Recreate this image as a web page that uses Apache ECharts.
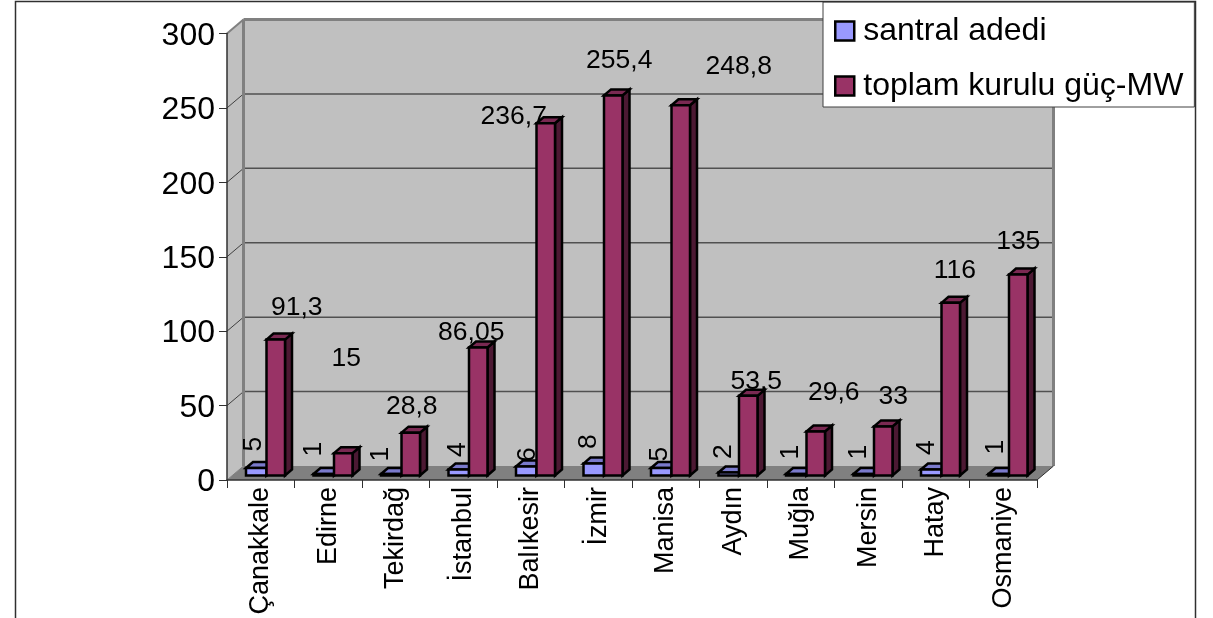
<!DOCTYPE html>
<html><head><meta charset="utf-8">
<style>html,body{margin:0;padding:0;background:#fff}#c{width:1213px;height:618px}</style>
<script src="https://cdn.jsdelivr.net/npm/echarts@6/dist/echarts.min.js"></script>
</head><body><div id="c"></div>
<script>
var categories = ['Çanakkale','Edirne','Tekirdağ','İstanbul','Balıkesir','İzmir','Manisa','Aydın','Muğla','Mersin','Hatay','Osmaniye'];
var santralAdedi = [5,1,1,4,6,8,5,2,1,1,4,1];
var toplamGuc = [91.3,15,28.8,86.05,236.7,255.4,248.8,53.5,29.6,33,116,135];
var valueTicks = [50,100,150,200,250,300];

// Hand-placed label offsets from each bar's top (layout, as in the original)
var santralNudge = [[-3,-24],[-10,-25],[-11,-20],[-1,-20],[1,-12],[-5,-22],[-2,-14],[-5,-21],[-6,-22],[-5,-22],[-5,-22],[-3,-27]];
var gucNudge = [[21,-32],[3,-94],[1,-26],[-7,-15],[-32,-7],[6,-35],[58,-39],[8,-14],[18,-39],[10,-30],[4,-32],[0,-33]];

var FONT = '"Liberation Sans", Arial, sans-serif';
var DEPTH_X = 16.5, DEPTH_Y = 14;       // wall depth
var SHIFT_Y = 4.5;                      // bars stand inside the floor
var BAR_DX = 7, BAR_DY = 6;             // bar depth

function poly(pts, fill, stroke, lw, z2){
  return {type:'polygon', z2:z2||0, shape:{points:pts},
    style:{fill:fill, stroke:stroke||null, lineWidth:lw||0, lineJoin:'miter'}};
}
function line(x1,y1,x2,y2,c,lw){
  return {type:'line', shape:{x1:x1,y1:y1,x2:x2,y2:y2}, style:{stroke:c,lineWidth:lw,fill:null}};
}

function renderWalls(params, api){
  if (params.dataIndex !== 0) return;
  var n = categories.length;
  var bw = api.size([1,0])[0];
  var p0 = api.coord([0,0]), pt = api.coord([0,300]);
  var L = p0[0]-bw/2, R = L+bw*n, B = p0[1], T = pt[1];
  var dx = DEPTH_X, dy = DEPTH_Y;
  var ch = [
    poly([[L,T],[L+dx,T-dy],[L+dx,B-dy],[L,B]], '#C0C0C0'),
    poly([[L+dx,T-dy],[R+dx,T-dy],[R+dx,B-dy],[L+dx,B-dy]], '#C0C0C0'),
    poly([[L,B],[L+dx,B-dy],[R+dx,B-dy],[R,B]], '#808080')
  ];
  valueTicks.slice(0,-1).forEach(function(v){
    var y = api.coord([0,v])[1];
    ch.push(line(L,y,L+dx,y-dy,'#404040',1));
    ch.push(line(L+dx,y-dy,R+dx,y-dy,'#505050',1.5));
  });
  ch.push(line(L,T,L+dx,T-dy,'#808080',2));
  ch.push(line(L+dx,T-dy,R+dx,T-dy,'#808080',3));
  ch.push(line(L+dx,T-dy,L+dx,B-dy,'#808080',3));
  ch.push(line(R+dx,T-dy,R+dx,B-dy,'#808080',3));
  ch.push(line(L,B,L+dx,B-dy,'#808080',1));
  ch.push(line(R,B,R+dx,B-dy,'#303030',1));
  return {type:'group', children:ch};
}

function makeBars(offset, width, front, top, side, labels, nudges, rotated){
  return function(params, api){
    var i = api.value(0), v = api.value(1);
    var bw = api.size([1,0])[0];
    var base = api.coord([i,0]), head = api.coord([i,v]);
    var x = base[0]-bw/2+offset, y0 = base[1]-SHIFT_Y, y1 = head[1]-SHIFT_Y;
    var w = width, dx = BAR_DX, dy = BAR_DY;
    var s = {stroke:'#000', lw:2.5};
    var nd = nudges[i];
    var tx = x+w/2+nd[0], ty = y1+nd[1];
    return {type:'group', children:[
      poly([[x+w,y1],[x+w+dx,y1-dy],[x+w+dx,y0-dy],[x+w,y0]], side, s.stroke, s.lw),
      poly([[x,y1],[x+dx,y1-dy],[x+w+dx,y1-dy],[x+w,y1]], top, s.stroke, s.lw),
      poly([[x,y1],[x+w,y1],[x+w,y0],[x,y0]], front, s.stroke, s.lw),
      {type:'text', x:tx, y:ty, rotation: rotated ? Math.PI/2 : 0, z2:10,
       style:{text:labels(v), fill:'#000', font:'26.5px '+FONT, align:'center', verticalAlign:'middle'}}
    ]};
  };
}
function fmt(v){ return String(v).replace('.',','); }

var chart = echarts.init(document.getElementById('c'), null, {renderer:'canvas'});
chart.setOption({
  animation:false,
  backgroundColor:'#fff',
  grid:{left:227, top:33.5, width:810, height:446.5, containLabel:false},
  xAxis:{type:'category', data:categories, z:4,
    axisLine:{lineStyle:{color:'#303030',width:1.5}},
    axisTick:{show:true, alignWithLabel:false, length:8, lineStyle:{color:'#303030',width:1}},
    axisLabel:{rotate:90, interval:0, margin:7, color:'#000', fontFamily:'Liberation Sans', fontSize:27},
    splitLine:{show:false}},
  yAxis:{type:'value', min:0, max:300, interval:50, z:4,
    axisLine:{show:true, lineStyle:{color:'#303030',width:1.5}},
    axisTick:{show:true, length:8, lineStyle:{color:'#303030',width:1}},
    axisLabel:{margin:12, color:'#000', formatter:'{t|{value}}',
      rich:{t:{fontFamily:'Liberation Sans', fontSize:32, color:'#000', padding:[5,0,0,0]}}},
    splitLine:{show:false}},
  legend:{show:true, orient:'vertical', left:823, top:2, padding:[13,11,5,11], itemGap:23,
    itemWidth:19, itemHeight:19, icon:'rect', backgroundColor:'#fff', borderColor:'#404040', borderWidth:1, z:10,
    data:['santral adedi','toplam kurulu güç-MW'],
    textStyle:{fontFamily:'Liberation Sans', fontSize:32, color:'#000', padding:[0,0,0,4]},
    itemStyle:{borderColor:'#000', borderWidth:2.5}},
  graphic:[
    {type:'polyline', silent:true, z:20, shape:{points:[[15.5,620],[15.5,1.5],[1195.5,1.5],[1195.5,620]]},
     style:{stroke:'#303030',lineWidth:1.5,fill:null}}
  ],
  series:[
    {type:'custom', name:'walls', z:1, silent:true, clip:false, renderItem:renderWalls,
     data:[[0,0]], encode:{x:0,y:1}, tooltip:{show:false}},
    {type:'custom', name:'santral adedi', z:2, clip:false, itemStyle:{color:'#9999FF'},
     renderItem:makeBars(19,20.5,'#9999FF','#7A7ACC','#4C4C80',fmt,santralNudge,true),
     data:santralAdedi.map(function(v,i){return [i,v];}), encode:{x:0,y:1}},
    {type:'custom', name:'toplam kurulu güç-MW', z:3, clip:false, itemStyle:{color:'#993366'},
     renderItem:makeBars(39.5,18.5,'#993366','#7A2952','#4C1933',fmt,gucNudge,false),
     data:toplamGuc.map(function(v,i){return [i,v];}), encode:{x:0,y:1}}
  ]
});
</script>
</body></html>
